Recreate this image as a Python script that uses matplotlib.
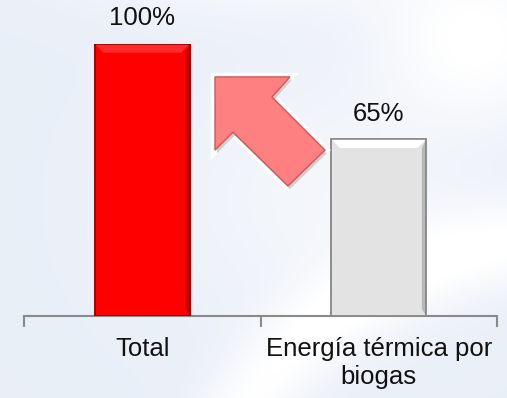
import numpy as np
import matplotlib.pyplot as plt
from matplotlib.patches import Polygon, Rectangle

plt.rcParams['font.family'] = ['Liberation Sans', 'DejaVu Sans']

categories = ['Total', 'Energía térmica por\nbiogas']
values = [100, 65]
labels = ['100%', '65%']
face_colors = ['#ff0000', '#e3e3e3']
edge_colors = ['#9a0000', '#8c8c8c']
top_colors = ['#ff2a2a', '#ffffff']

W, H = 507, 398
fig = plt.figure(figsize=(W / 100, H / 100), dpi=100)

# soft bluish backdrop with lighter swooshes
bg = fig.add_axes([0, 0, 1, 1])
yy, xx = np.mgrid[0:H, 0:W]
base = np.ones((H, W, 3)) * np.array([0.915, 0.937, 0.972])
light = np.exp(-((xx - 480) ** 2 / 9000.0 + (yy - 40) ** 2 / 6000.0))
arc = np.hypot(xx - 560, yy - 620)
light += 0.9 * np.exp(-((arc - 380) ** 2) / 1800.0)
light += 0.7 * np.exp(-((xx - 250) ** 2 / 40000.0 + (yy + 40) ** 2 / 3000.0))
light += 0.5 * np.exp(-((xx - 330) ** 2 / 30000.0 + (yy - 200) ** 2 / 20000.0))
light = np.clip(light, 0, 1)[..., None]
img = base * (1 - light) + np.ones(3) * light
bg.imshow(img, aspect='auto', extent=(0, 1, 0, 1))
bg.axis('off')

ax = fig.add_axes([24 / W, (H - 316) / H, 473 / W, 272 / H])
ax.patch.set_alpha(0)
x = np.arange(len(values))
width = 0.4
ax.bar(x, values, width=width, color=face_colors, edgecolor=edge_colors,
       linewidth=1.2, zorder=3)

# bevel strips on top of each bar
bev_x, bev_y = 0.035, 3.2
for xi, v, fc, ec, tc in zip(x, values, face_colors, edge_colors, top_colors):
    l, r = xi - width / 2, xi + width / 2
    ax.add_patch(Polygon([(l, v), (r, v), (r - bev_x, v - bev_y), (l + bev_x, v - bev_y)],
                         closed=True, facecolor=tc, edgecolor='none', zorder=4))
    ax.add_patch(Polygon([(r, v), (r, 0), (r - bev_x * 0.5, bev_y * 0.8),
                          (r - bev_x * 0.5, v - bev_y)],
                         closed=True, facecolor=ec, alpha=0.5, edgecolor='none', zorder=4))
    ax.add_patch(Rectangle((l, 0), width, v, fill=False, edgecolor=ec, lw=1.2, zorder=5))

for xi, v, lab in zip(x, values, labels):
    ax.text(xi, v + 5, lab, ha='center', va='bottom', fontsize=18.5, color='#111111',
            clip_on=False)

# block arrow pointing from the second bar to the first
arrow = [(0.3076, 87.9), (0.6247, 87.9), (0.5486, 80.5), (0.7727, 61.0),
         (0.6163, 47.8), (0.3837, 67.6), (0.3076, 61.0)]
shadow = [(px + 0.008, py - 1.2) for px, py in arrow]
ax.add_patch(Polygon(arrow, closed=True, facecolor='none', edgecolor='white',
                     lw=6, joinstyle='miter', zorder=5, alpha=0.9))
ax.add_patch(Polygon(shadow, closed=True, facecolor='#b0b0b0', edgecolor='none',
                     alpha=0.6, zorder=5))
ax.add_patch(Polygon(arrow, closed=True, facecolor='#ff8080', edgecolor='#c85a5a',
                     lw=1.0, zorder=6))

ax.set_xlim(-0.5, 1.5)
ax.set_ylim(0, 100)
for side in ['top', 'right', 'left']:
    ax.spines[side].set_visible(False)
ax.spines['bottom'].set_color('#8a8a8a')
ax.spines['bottom'].set_linewidth(1.5)
ax.spines['bottom'].set_zorder(2)
ax.set_yticks([])
ax.set_xticks(x)
ax.set_xticklabels(categories, fontsize=18.5, color='#111111', linespacing=1.2)
ax.tick_params(axis='x', which='major', length=0, pad=15)
ax.set_xticks([-0.5, 0.5, 1.5], minor=True)
ax.tick_params(axis='x', which='minor', length=8, width=1.5, color='#8a8a8a',
               direction='out')

fig.savefig('out.png', dpi=100)
